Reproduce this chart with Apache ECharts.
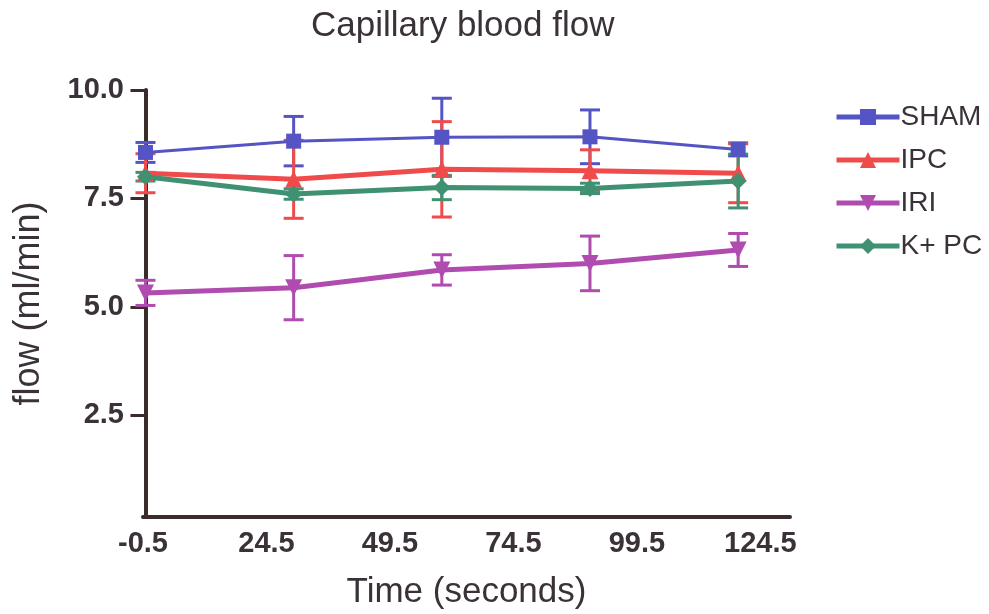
<!DOCTYPE html>
<html>
<head>
<meta charset="utf-8">
<script src="https://cdn.jsdelivr.net/npm/echarts@6/dist/echarts.min.js"></script>
<style>
    html, body { margin: 0; padding: 0; background: #fff; }
    #chart { width: 989px; height: 614px; }
</style>
</head>
<body>
<div id="chart"></div>
<script>
    // values (mean and error per time point)
    var timePoints = [0, 30, 60, 90, 120];
    var xTicks = [-0.5, 24.5, 49.5, 74.5, 99.5, 124.5];
    var yTicks = [2.5, 5.0, 7.5, 10.0];

    var shamMean = [8.56, 8.82, 8.91, 8.92, 8.63];
    var shamErr = [0.23, 0.57, 0.90, 0.62, 0.15];
    var ipcMean = [8.08, 7.94, 8.17, 8.14, 8.08];
    var ipcErr = [0.45, 0.90, 1.10, 0.48, 0.68];
    var iriMean = [5.32, 5.44, 5.85, 6.00, 6.31];
    var iriErr = [0.29, 0.74, 0.35, 0.63, 0.38];
    var kpcMean = [8.00, 7.60, 7.75, 7.73, 7.90];
    var kpcErr = [0.10, 0.12, 0.28, 0.12, 0.62];

    var textColor = '#3a3238';
    var axisColor = '#3b2c2c';

    var groups = [
        {name: 'SHAM', mean: shamMean, err: shamErr, color: '#5454c4', symbol: 'rect', rotate: 0, width: 3},
        {name: 'IPC', mean: ipcMean, err: ipcErr, color: '#f04b4b', symbol: 'triangle', rotate: 0, width: 5},
        {name: 'IRI', mean: iriMean, err: iriErr, color: '#b04cb0', symbol: 'triangle', rotate: 180, width: 5},
        {name: 'K+ PC', mean: kpcMean, err: kpcErr, color: '#3f9172', symbol: 'diamond', rotate: 0, width: 5}
    ];

    function pairs(xs, ys) {
        return xs.map(function (x, i) { return [x, ys[i]]; });
    }

    function errRows(xs, m, e) {
        return xs.map(function (x, i) { return [x, m[i] - e[i], m[i] + e[i]]; });
    }

    function errorBar(color) {
        return function (params, api) {
            var x = api.value(0);
            var lo = api.coord([x, api.value(1)]);
            var hi = api.coord([x, api.value(2)]);
            var hw = 10;
            var style = {stroke: color, lineWidth: 3};
            return {
                type: 'group',
                children: [
                    {type: 'line', shape: {x1: lo[0], y1: lo[1], x2: hi[0], y2: hi[1]}, style: style},
                    {type: 'line', shape: {x1: lo[0] - hw, y1: lo[1], x2: lo[0] + hw, y2: lo[1]}, style: style},
                    {type: 'line', shape: {x1: hi[0] - hw, y1: hi[1], x2: hi[0] + hw, y2: hi[1]}, style: style}
                ]
            };
        };
    }

    var series = [];
    groups.forEach(function (g) {
        series.push({
            name: g.name + ' error',
            type: 'custom',
            renderItem: errorBar(g.color),
            itemStyle: {color: g.color},
            data: errRows(timePoints, g.mean, g.err),
            z: 2,
            silent: true
        });
    });
    groups.forEach(function (g) {
        series.push({
            name: g.name,
            type: 'line',
            data: pairs(timePoints, g.mean),
            symbol: g.symbol,
            symbolRotate: g.rotate,
            symbolSize: g.symbol === 'rect' ? 15 : 17,
            showAllSymbol: true,
            lineStyle: {color: g.color, width: g.width},
            itemStyle: {color: g.color},
            z: 3
        });
    });

    var chart = echarts.init(document.getElementById('chart'));
    chart.setOption({
        backgroundColor: '#fff',
        animation: false,
        title: {
            text: 'Capillary blood flow',
            left: 306,
            top: 4,
            textStyle: {fontFamily: 'Liberation Sans', fontSize: 35, fontWeight: 'normal', color: textColor}
        },
        legend: {
            orient: 'vertical',
            left: 829,
            top: 98,
            itemWidth: 63,
            itemHeight: 20,
            itemGap: 15,
            lineStyle: {width: 5},
            data: groups.map(function (g) { return g.name; }),
            textStyle: {fontFamily: 'Liberation Sans', fontSize: 28, color: textColor, padding: [0, 0, 0, -4]}
        },
        grid: {left: 143, right: 199, top: 90, bottom: 97, outerBoundsMode: 'none'},
        xAxis: {
            type: 'value',
            min: -0.5,
            max: 130.5,
            name: 'Time (seconds)',
            nameLocation: 'middle',
            nameGap: 58,
            nameTextStyle: {fontFamily: 'Liberation Sans', fontSize: 35, color: textColor},
            axisLine: {lineStyle: {color: axisColor, width: 4}},
            axisTick: {show: false},
            splitLine: {show: false},
            axisLabel: {
                customValues: xTicks,
                margin: 12,
                fontFamily: 'Liberation Sans',
                fontSize: 29,
                fontWeight: 'bold',
                color: textColor,
                formatter: function (v) { return v.toFixed(1); }
            }
        },
        yAxis: {
            type: 'value',
            min: 0.15,
            max: 10,
            name: 'flow (ml/min)',
            nameLocation: 'middle',
            nameGap: 96,
            nameTextStyle: {fontFamily: 'Liberation Sans', fontSize: 36, color: textColor},
            axisLine: {show: true, lineStyle: {color: axisColor, width: 4}},
            axisTick: {show: true, customValues: yTicks, length: 15, lineStyle: {color: axisColor, width: 3}},
            splitLine: {show: false},
            axisLabel: {
                customValues: yTicks,
                margin: 19,
                fontFamily: 'Liberation Sans',
                fontSize: 29,
                fontWeight: 'bold',
                color: textColor,
                formatter: function (v) { return v.toFixed(1); }
            }
        },
        series: series
    });
</script>
</body>
</html>
